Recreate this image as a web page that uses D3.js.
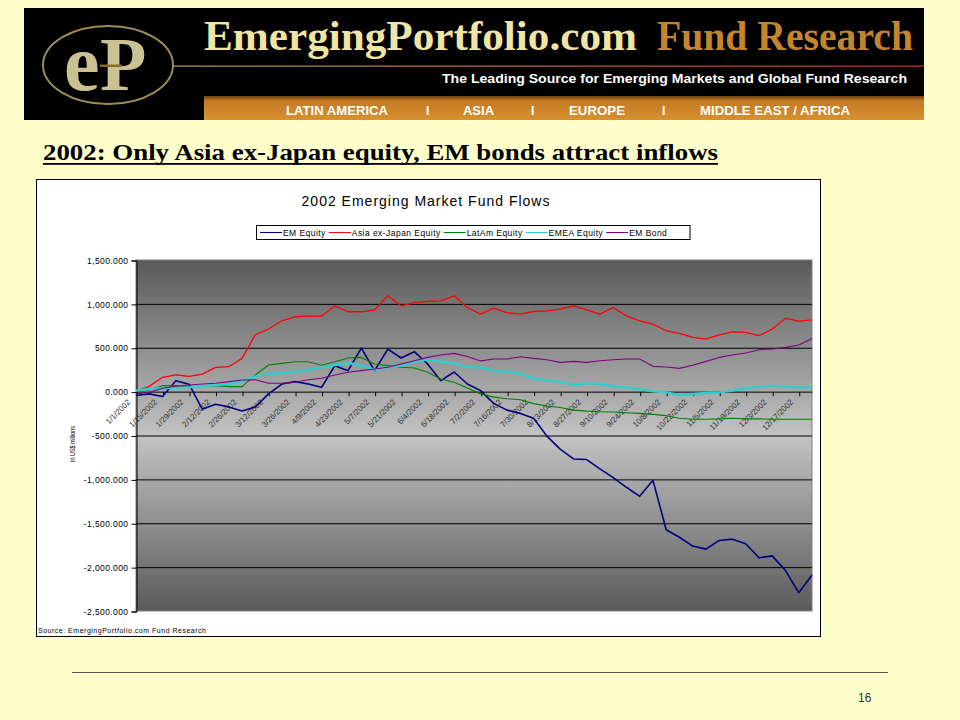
<!DOCTYPE html>
<html><head><meta charset="utf-8">
<script src="https://cdn.jsdelivr.net/npm/d3@7"></script>
<style>body{margin:0;background:#FFFFCC;} svg{display:block;}</style>
</head><body>
<svg id="c" width="960" height="720"></svg>
<script>
// ---------------- data ----------------
const dates = ["1/1/2002","1/8/2002","1/15/2002","1/22/2002","1/29/2002","2/5/2002","2/12/2002","2/19/2002","2/26/2002",
"3/5/2002","3/12/2002","3/19/2002","3/26/2002","4/2/2002","4/9/2002","4/16/2002","4/23/2002","4/30/2002",
"5/7/2002","5/14/2002","5/21/2002","5/28/2002","6/4/2002","6/11/2002","6/18/2002","6/25/2002",
"7/2/2002","7/9/2002","7/16/2002","7/23/2002","7/30/2002","8/6/2002","8/13/2002","8/20/2002","8/27/2002",
"9/3/2002","9/10/2002","9/17/2002","9/24/2002","10/1/2002","10/8/2002","10/15/2002","10/22/2002","10/29/2002",
"11/5/2002","11/12/2002","11/19/2002","11/26/2002","12/3/2002","12/10/2002","12/17/2002","12/24/2002"];
const seriesNames = ["EM Equity","Asia ex-Japan Equity","LatAm Equity","EMEA Equity","EM Bond"];
const emEquity = [-44,-26,-55,125,85,-200,-144,-174,-222,-174,-26,86,114,87,49,296,239,496,239,485,383,455,315,125,224,87,
  11,-137,-211,-248,-303,-507,-655,-767,-774,-880,-980,-1090,-1193,-1010,-1574,-1660,-1760,-1795,-1696,-1681,-1734,-1894,-1872,-2039,-2291,-2089];
const asiaExJapan = [0,60,163,190,174,200,277,284,379,648,713,807,853,860,860,978,910,910,932,1092,978,1016,1027,1035,1092,959,
  883,951,898,883,913,921,940,978,932,883,959,864,807,770,694,663,618,599,648,682,675,637,713,834,803,818];
const latAmEquity = [0,19,68,68,49,61,68,57,57,190,303,322,341,341,300,341,383,390,315,296,277,269,220,144,106,40,
  -26,-63,-81,-93,-137,-163,-181,-211,-222,-229,-233,-240,-248,-259,-274,-303,-315,-315,-311,-303,-311,-311,-315,-315,-315,-315];
const emeaEquity = [11,30,38,45,49,61,76,87,114,174,201,212,227,250,277,303,326,296,250,277,296,341,364,341,326,277,
  277,239,227,201,152,125,114,76,95,87,61,45,30,4,-8,-38,-27,-15,-8,11,38,57,68,57,49,49];
const emBond = [-27,-8,38,61,76,87,95,114,133,136,95,95,106,136,152,190,220,239,258,277,315,352,390,417,436,400,
  350,371,371,398,379,364,333,345,333,352,364,371,371,288,280,265,300,345,390,417,440,478,485,504,531,606];
const yTicks = [1500,1000,500,0,-500,-1000,-1500,-2000,-2500];
const navItems = ["LATIN AMERICA","I","ASIA","I","EUROPE","I","MIDDLE EAST / AFRICA"];

// ---------------- styles ----------------
const colors = ["#000080","#FF0000","#008000","#33CCCC","#800080"];
const widths = [1.6,1.3,1.1,2.4,1.1];
const values = [emEquity, asiaExJapan, latAmEquity, emeaEquity, emBond];

const svg = d3.select("#c");
const defs = svg.append("defs");

// ---------------- header banner ----------------
svg.append("rect").attr("x",24).attr("y",8).attr("width",900).attr("height",112).attr("fill","#000");
const og = defs.append("linearGradient").attr("id","orange").attr("x1",0).attr("y1",0).attr("x2",0).attr("y2",1);
og.append("stop").attr("offset","0%").attr("stop-color","#6e4210");
og.append("stop").attr("offset","20%").attr("stop-color","#c27a25");
og.append("stop").attr("offset","100%").attr("stop-color","#d8912f");
svg.append("rect").attr("x",204).attr("y",96).attr("width",720).attr("height",24).attr("fill","url(#orange)");
const lg = defs.append("linearGradient").attr("id","hline").attr("x1",0).attr("x2",1).attr("y1",0).attr("y2",0);
lg.append("stop").attr("offset","0%").attr("stop-color","#a89350");
lg.append("stop").attr("offset","60%").attr("stop-color","#b0503a");
lg.append("stop").attr("offset","100%").attr("stop-color","#c02a20");
svg.append("rect").attr("x",172).attr("y",65.5).attr("width",752).attr("height",1.3).attr("fill","url(#hline)");
// logo
svg.append("ellipse").attr("cx",108).attr("cy",65).attr("rx",65).attr("ry",39)
  .attr("fill","none").attr("stroke","#9a8c52").attr("stroke-width",2);
svg.append("text").attr("x",64).attr("y",90).attr("font-family","Liberation Serif").attr("font-weight","bold")
  .attr("font-size",80).attr("fill","#cbc293").text("e");
svg.append("text").attr("x",100).attr("y",90).attr("font-family","Liberation Serif").attr("font-weight","bold")
  .attr("font-size",76).attr("fill","#cbc293").text("P");
svg.append("rect").attr("x",100).attr("y",64.5).attr("width",22).attr("height",2.5).attr("fill","#8a6a2a");
// brand text
svg.append("text").attr("x",204).attr("y",50).attr("font-family","Liberation Serif").attr("font-weight","bold")
  .attr("font-size",42).attr("fill","#f0e5a2").attr("textLength",433).attr("lengthAdjust","spacingAndGlyphs")
  .text("EmergingPortfolio.com");
svg.append("text").attr("x",657).attr("y",50).attr("font-family","Liberation Serif").attr("font-weight","bold")
  .attr("font-size",42).attr("fill","#c4852d").attr("textLength",256).attr("lengthAdjust","spacingAndGlyphs")
  .text("Fund Research");
svg.append("text").attr("x",442).attr("y",83).attr("font-family","Liberation Sans").attr("font-weight","bold")
  .attr("font-size",12.5).attr("fill","#fff").attr("textLength",465).attr("lengthAdjust","spacingAndGlyphs")
  .text("The Leading Source for Emerging Markets and Global Fund Research");
const navX = [286,426,463,531,569,662,700];
const navW = [102,null,31,null,56,null,150];
navItems.forEach((t,i)=>{
  const tx = svg.append("text").attr("x",navX[i]).attr("y",115).attr("font-family","Liberation Sans")
    .attr("font-weight","bold").attr("font-size",12).attr("fill","#fff").text(t);
  if (navW[i]) tx.attr("textLength",navW[i]).attr("lengthAdjust","spacingAndGlyphs");
});

// ---------------- slide title ----------------
svg.append("text").attr("x",43).attr("y",160).attr("font-family","Liberation Serif").attr("font-weight","bold")
  .attr("font-size",24).attr("fill","#000").attr("textLength",675).attr("lengthAdjust","spacingAndGlyphs")
  .text("2002: Only Asia ex-Japan equity, EM bonds attract inflows");
svg.append("rect").attr("x",43).attr("y",163).attr("width",675).attr("height",1.8).attr("fill","#000");

// ---------------- chart box ----------------
svg.append("rect").attr("x",36.5).attr("y",179.5).attr("width",784).attr("height",457)
  .attr("fill","#fff").attr("stroke","#000").attr("stroke-width",1);

svg.append("text").attr("x",426).attr("y",206).attr("text-anchor","middle").attr("font-family","Liberation Sans")
  .attr("font-size",14).attr("letter-spacing",1.0).attr("fill","#000").text("2002 Emerging Market Fund Flows");

// plot area
const L = 136, R = 812, T = 260, B = 611;
const x = d3.scalePoint().domain(dates).range([L, R]);
const y = d3.scaleLinear().domain([-2500, 1500]).range([B, T]);

const bg = defs.append("linearGradient").attr("id","plotbg").attr("x1",0).attr("y1",0).attr("x2",0).attr("y2",1);
bg.append("stop").attr("offset","0%").attr("stop-color","#5a5a5a");
bg.append("stop").attr("offset","50%").attr("stop-color","#c3c3c3");
bg.append("stop").attr("offset","100%").attr("stop-color","#5a5a5a");
svg.append("rect").attr("x",L).attr("y",T).attr("width",R-L).attr("height",B-T)
  .attr("fill","url(#plotbg)").attr("stroke","#808080").attr("stroke-width",1);

// gridlines
svg.append("g").selectAll("line").data(yTicks.filter(v => v !== 1500 && v !== -2500 && v !== 0)).join("line")
  .attr("x1",L).attr("x2",R).attr("y1",d=>y(d)+0.5).attr("y2",d=>y(d)+0.5)
  .attr("stroke","#000").attr("stroke-width",1);

// y axis
const loc = d3.formatLocale({decimal:".", thousands:",", grouping:[3], currency:["$",""], minus:"-"});
const yAxis = d3.axisLeft(y).tickValues(yTicks).tickFormat(loc.format(",.3f")).tickSize(5).tickPadding(3);
const gy = svg.append("g").attr("transform",`translate(${L+0.5},0.5)`).call(yAxis);
gy.select(".domain").attr("stroke","#000");
gy.selectAll(".tick line").attr("stroke","#000");
gy.selectAll(".tick text").attr("font-family","Liberation Sans").attr("font-size",8.5)
  .attr("letter-spacing",0.4).attr("fill","#000");

svg.append("text").attr("transform","translate(75,444) rotate(-90)").attr("text-anchor","middle")
  .attr("font-family","Liberation Sans").attr("font-size",7.5).attr("fill","#000")
  .attr("textLength",36).attr("lengthAdjust","spacingAndGlyphs").text("In US$ millions");

// x axis at zero
const labelDates = dates.filter((d,i)=> i % 2 === 0);
const xAxis = d3.axisBottom(x).tickValues(labelDates).tickSize(4).tickFormat("");
const gx = svg.append("g").attr("transform",`translate(0.5,${y(0)+0.5})`).call(xAxis);
gx.select(".domain").attr("stroke","#000").attr("d",`M${L},0H${R}`);
gx.selectAll(".tick line").attr("stroke","#000");
svg.append("g").selectAll("text").data(labelDates).join("text")
  .attr("transform", d => `translate(${x(d)-5},${y(0)+11}) rotate(-45)`)
  .attr("text-anchor","end").attr("font-family","Liberation Sans").attr("font-size",8)
  .attr("fill","#333").text(d=>d);

// lines
const line = d3.line().x((d,i)=>x(dates[i])).y(d=>y(d));
values.forEach((vals,k)=>{
  svg.append("path").datum(vals).attr("d",line).attr("fill","none")
    .attr("stroke",colors[k]).attr("stroke-width",widths[k]).attr("stroke-linejoin","round");
});

// legend
const lgG = svg.append("g");
const lgBox = lgG.append("rect").attr("x",256.5).attr("y",225.5).attr("height",14)
  .attr("fill","#fff").attr("stroke","#000").attr("stroke-width",1);
let cx = 260;
seriesNames.forEach((n,k)=>{
  lgG.append("line").attr("x1",cx).attr("x2",cx+22).attr("y1",232.5).attr("y2",232.5)
    .attr("stroke",colors[k]).attr("stroke-width",k===3?1.2:1.1);
  const t = lgG.append("text").attr("x",cx+23).attr("y",236).attr("font-family","Liberation Sans")
    .attr("font-size",8.5).attr("letter-spacing",0.45).attr("fill","#000").text(n);
  cx += 23 + t.node().getComputedTextLength() + 3;
});
lgBox.attr("width", 690 - 256.5);

// source
svg.append("text").attr("x",38).attr("y",633).attr("font-family","Liberation Sans").attr("font-size",7)
  .attr("fill","#000").attr("textLength",168).attr("lengthAdjust","spacing")
  .text("Source: EmergingPortfolio.com Fund Research");

// footer
svg.append("line").attr("x1",72).attr("x2",888).attr("y1",672.5).attr("y2",672.5)
  .attr("stroke","#555").attr("stroke-width",1);
svg.append("text").attr("x",858).attr("y",702).attr("font-family","Liberation Sans").attr("font-size",12)
  .attr("fill","#333").text("16");
</script>
</body></html>
